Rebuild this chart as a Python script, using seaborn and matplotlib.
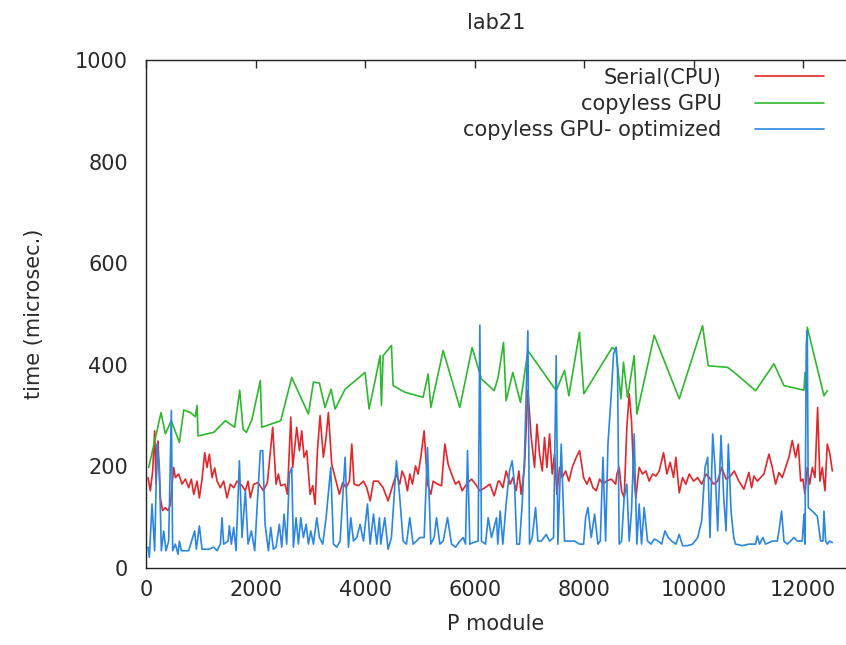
import matplotlib
matplotlib.use("Agg")
import matplotlib.pyplot as plt
import seaborn as sns
import numpy as np
import pandas as pd

# values
serial_x = [37, 79, 122, 158, 183, 219, 262, 304, 353, 402, 445, 505, 536, 597, 658, 719, 779, 828, 871, 932,
            974, 1023, 1072, 1114, 1157, 1206, 1254, 1297, 1358, 1418, 1479, 1540, 1601, 1662, 1753, 1814, 1863, 1905, 1966, 2046,
            2107, 2143, 2216, 2313, 2374, 2417, 2460, 2539, 2582, 2643, 2679, 2752, 2801, 2843, 2886, 2935, 2996, 3044, 3087, 3130,
            3178, 3239, 3288, 3330, 3391, 3470, 3531, 3592, 3653, 3714, 3757, 3799, 3879, 3970, 4031, 4092, 4153, 4237, 4329, 4420,
            4511, 4572, 4633, 4676, 4725, 4773, 4816, 4865, 4920, 4968, 5017, 5078, 5139, 5200, 5243, 5322, 5395, 5456, 5517, 5578,
            5651, 5712, 5772, 5851, 5943, 6016, 6095, 6187, 6278, 6357, 6430, 6454, 6515, 6575, 6648, 6697, 6758, 6807, 6849, 6910,
            6972, 7033, 7094, 7137, 7185, 7234, 7276, 7319, 7368, 7416, 7459, 7502, 7550, 7599, 7660, 7721, 7782, 7855, 7916, 7989,
            8050, 8099, 8160, 8221, 8282, 8343, 8404, 8495, 8575, 8597, 8639, 8682, 8730, 8779, 8822, 8864, 8900, 8943, 9004, 9065,
            9126, 9187, 9248, 9309, 9370, 9449, 9510, 9571, 9632, 9674, 9735, 9796, 9857, 9918, 9998, 10072, 10145, 10224, 10285, 10364,
            10437, 10510, 10590, 10669, 10742, 10764, 10825, 10916, 11007, 11056, 11099, 11160, 11221, 11282, 11373, 11434, 11495, 11556, 11617, 11678,
            11738, 11799, 11860, 11909, 11952, 11994, 12031, 12073, 12116, 12165, 12213, 12262, 12304, 12347, 12396, 12438, 12487, 12530]
serial_y = [178, 152, 191, 270, 165, 250, 138, 113, 119, 113, 125, 198, 178, 185, 165, 175, 158, 175, 145, 171,
            138, 175, 227, 198, 224, 178, 197, 171, 158, 171, 138, 165, 158, 171, 162, 152, 171, 138, 165, 168,
            158, 152, 168, 277, 165, 185, 162, 165, 145, 297, 198, 277, 231, 270, 218, 231, 145, 162, 125, 231,
            300, 218, 257, 306, 204, 171, 145, 168, 158, 171, 244, 165, 162, 171, 158, 132, 171, 171, 158, 132,
            165, 185, 165, 191, 178, 152, 185, 165, 201, 185, 218, 270, 165, 145, 171, 165, 162, 244, 204, 185,
            165, 171, 152, 165, 175, 165, 152, 158, 165, 142, 171, 171, 158, 191, 165, 178, 152, 191, 145, 198,
            350, 257, 198, 283, 224, 191, 257, 198, 264, 185, 224, 145, 198, 178, 191, 171, 198, 218, 231, 178,
            165, 178, 158, 152, 175, 165, 171, 175, 165, 185, 198, 152, 138, 277, 343, 290, 191, 138, 198, 185,
            191, 171, 185, 181, 191, 227, 185, 208, 178, 218, 148, 178, 165, 185, 171, 178, 165, 185, 178, 165,
            171, 198, 175, 181, 191, 185, 171, 155, 188, 158, 181, 171, 178, 185, 224, 198, 165, 188, 178, 198,
            218, 251, 218, 244, 171, 175, 145, 198, 165, 198, 178, 316, 171, 198, 152, 244, 224, 191]

gpu_x = [50, 275, 353, 462, 609, 689, 810, 901, 932, 950, 1236, 1449, 1619, 1711, 1772, 1833, 1936, 2088, 2113, 2460,
         2661, 2965, 3057, 3166, 3269, 3379, 3452, 3635, 4000, 4073, 4183, 4274, 4298, 4329, 4481, 4511, 4725, 5059, 5151, 5200,
         5425, 5729, 5954, 6125, 6356, 6429, 6527, 6575, 6697, 6837, 6972, 7489, 7641, 7720, 7914, 7994, 8511, 8584, 8670, 8718,
         8791, 8913, 8962, 9279, 9735, 10161, 10265, 10618, 10740, 11129, 11465, 11647, 12013, 12031, 12055, 12073, 12378, 12438]
gpu_y = [198, 306, 264, 290, 247, 311, 306, 298, 320, 260, 267, 290, 277, 350, 273, 267, 293, 369, 277, 290,
         375, 303, 366, 364, 316, 352, 313, 352, 385, 313, 369, 418, 320, 418, 438, 359, 346, 336, 382, 316,
         428, 316, 434, 372, 349, 375, 444, 329, 385, 326, 428, 349, 389, 339, 464, 343, 434, 428, 333, 405,
         336, 418, 303, 458, 333, 477, 398, 395, 385, 349, 402, 359, 350, 385, 349, 474, 339, 349]

opt_x = [37, 61, 110, 158, 201, 244, 280, 323, 365, 414, 463, 487, 536, 585, 609, 646, 779, 889, 919, 974,
         1023, 1145, 1236, 1297, 1358, 1388, 1418, 1498, 1522, 1558, 1601, 1644, 1705, 1753, 1814, 1863, 1924, 1985, 2028, 2088,
         2131, 2174, 2235, 2277, 2326, 2374, 2435, 2478, 2520, 2569, 2618, 2661, 2691, 2740, 2783, 2825, 2874, 2923, 2965, 3008,
         3057, 3118, 3166, 3227, 3288, 3373, 3422, 3483, 3544, 3635, 3696, 3739, 3788, 3848, 3909, 3970, 4043, 4092, 4153, 4214,
         4262, 4286, 4359, 4420, 4481, 4572, 4633, 4694, 4755, 4816, 4877, 4938, 4999, 5078, 5139, 5200, 5261, 5304, 5365, 5426,
         5505, 5578, 5651, 5730, 5791, 5833, 5870, 5912, 5973, 6064, 6095, 6125, 6198, 6247, 6308, 6399, 6423, 6466, 6515, 6575,
         6636, 6685, 6728, 6770, 6819, 6868, 6910, 6972, 7002, 7051, 7112, 7155, 7216, 7307, 7368, 7441, 7489, 7520, 7581, 7641,
         7733, 7824, 7916, 7989, 8026, 8068, 8129, 8190, 8251, 8294, 8343, 8391, 8434, 8495, 8537, 8584, 8609, 8639, 8682, 8730,
         8779, 8822, 8864, 8913, 8962, 9004, 9047, 9095, 9157, 9218, 9279, 9352, 9413, 9474, 9535, 9596, 9674, 9735, 9796, 9888,
         9979, 10072, 10145, 10206, 10255, 10297, 10346, 10389, 10437, 10498, 10547, 10590, 10632, 10681, 10730, 10764, 10886, 11007, 11129, 11160,
         11202, 11263, 11312, 11434, 11526, 11556, 11604, 11647, 11708, 11769, 11830, 11891, 11982, 12013, 12031, 12055, 12073, 12092, 12165, 12256,
         12316, 12359, 12378, 12408, 12438, 12481, 12530]
opt_y = [41, 21, 126, 34, 244, 198, 34, 73, 34, 53, 310, 34, 47, 27, 53, 34, 34, 73, 37, 83,
         37, 37, 41, 34, 47, 99, 47, 53, 83, 47, 80, 34, 211, 60, 152, 47, 73, 34, 119, 231,
         231, 86, 34, 80, 37, 41, 86, 41, 106, 47, 185, 198, 41, 99, 47, 99, 60, 86, 47, 73,
         47, 99, 60, 47, 99, 198, 47, 41, 53, 218, 41, 99, 53, 60, 86, 53, 126, 47, 106, 47,
         99, 47, 99, 37, 60, 211, 139, 53, 47, 99, 47, 53, 60, 60, 237, 47, 60, 99, 47, 53,
         99, 47, 41, 53, 60, 47, 231, 47, 50, 53, 478, 53, 47, 99, 60, 99, 47, 112, 47, 126,
         191, 211, 165, 47, 47, 126, 218, 467, 47, 60, 119, 53, 53, 66, 53, 60, 418, 47, 244, 53,
         53, 53, 47, 47, 99, 119, 60, 106, 47, 53, 218, 53, 244, 343, 422, 435, 389, 47, 53, 139,
         165, 53, 112, 264, 47, 126, 47, 119, 53, 47, 57, 53, 47, 73, 60, 53, 47, 66, 44, 44,
         47, 60, 93, 198, 218, 60, 264, 198, 73, 261, 139, 73, 244, 112, 60, 47, 44, 47, 47, 63,
         47, 60, 47, 53, 53, 73, 112, 53, 47, 53, 60, 53, 53, 106, 47, 441, 467, 119, 112, 102,
         53, 53, 112, 53, 47, 53, 50]

labels = ["Serial(CPU)", "copyless GPU", "copyless GPU- optimized"]
colors = ["#e3262a", "#2db82d", "#2a86e0"]

df = pd.concat([
    pd.DataFrame({"P module": serial_x, "time": serial_y, "series": labels[0]}),
    pd.DataFrame({"P module": gpu_x, "time": gpu_y, "series": labels[1]}),
    pd.DataFrame({"P module": opt_x, "time": opt_y, "series": labels[2]}),
])

sns.set_style("white")
plt.rcParams["font.family"] = ["DejaVu Sans"]

fig = plt.figure(figsize=(8.46, 6.45), dpi=100)
ax = fig.add_axes([146 / 846, 1 - 568 / 645, 1 - 146 / 846, (568 - 60) / 645])

sns.lineplot(data=df, x="P module", y="time", hue="series", palette=dict(zip(labels, colors)),
             estimator=None, sort=False, linewidth=1.2, ax=ax)

ax.set_xlim(0, 12780)
ax.set_ylim(0, 1000)
ax.set_xticks(range(0, 12001, 2000))
ax.set_yticks(range(0, 1001, 200))
ax.tick_params(axis="both", direction="in", length=6, width=1, colors="#2a2a2a",
               labelsize=15, top=True, right=False)
ax.tick_params(axis="x", pad=9)
ax.tick_params(axis="y", pad=13)
for side in ["left", "bottom", "top"]:
    ax.spines[side].set_color("#222222")
    ax.spines[side].set_linewidth(1)
ax.spines["right"].set_visible(False)

ax.set_xlabel("P module", fontsize=15, color="#2a2a2a", labelpad=10)
ax.set_ylabel("time (microsec.)", fontsize=15, color="#2a2a2a", labelpad=22)
ax.set_title("lab21", fontsize=15, color="#2a2a2a", pad=22)

leg = ax.legend(loc="upper right", bbox_to_anchor=(0.968, 0.985), frameon=False, markerfirst=False,
                fontsize=15, handlelength=3.3, handletextpad=1.6, labelspacing=0.3,
                borderaxespad=0, borderpad=0)
for t in leg.get_texts():
    t.set_color("#2a2a2a")

fig.savefig("out.png", dpi=100)
